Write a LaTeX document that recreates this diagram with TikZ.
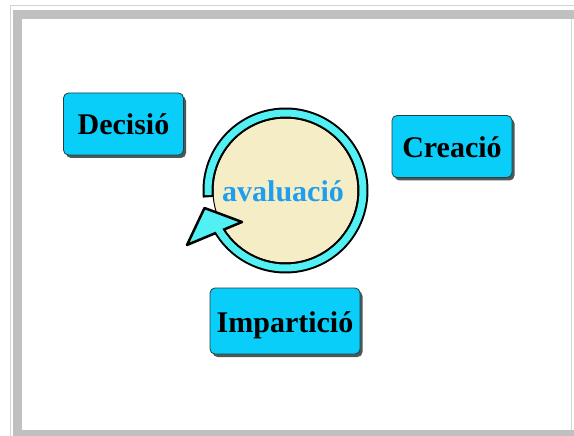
\documentclass[tikz,border=0pt]{standalone}
\usepackage{fontspec}
\setmainfont{Liberation Serif}
\usetikzlibrary{positioning,shadows}
\definecolor{BoxCyan}{RGB}{10,206,250}
\definecolor{RingCyan}{RGB}{82,240,242}
\definecolor{Beige}{RGB}{244,237,197}
\definecolor{EvalBlue}{RGB}{32,158,238}
\definecolor{FrameGray}{RGB}{192,192,192}
\definecolor{LineGray}{RGB}{212,212,212}
\definecolor{ShadowGray}{RGB}{40,62,62}
\tikzset{%
  stage/.style={%
    draw=ShadowGray, fill=BoxCyan, rounded corners=5pt, line width=.8pt,
    font=\fontsize{30}{36}\selectfont\bfseries, text=black,
    minimum width=120pt, minimum height=62pt, inner sep=0pt,
    text height=24pt, text depth=2pt, text centered,
    drop shadow={shadow xshift=2.5pt, shadow yshift=-3pt, fill=ShadowGray, opacity=.85}
  },
  ringline/.style={line width=11pt, draw=black},
  ringfill/.style={line width=7pt, draw=RingCyan},
  evaltext/.style={font=\fontsize{30}{36}\selectfont\bfseries, text=EvalBlue, anchor=base},
}

\begin{document}
\begin{tikzpicture}[x=1pt, y=-1pt]
    \useasboundingbox (0,0) rectangle (574,436);
    \clip (0,0) rectangle (574,436);

    % frame
    \fill[white] (0,0) rectangle (574,436);
    \draw[LineGray, line width=1pt] (10,5.3) rectangle (600,460);
    \fill[FrameGray] (12.6,10) rectangle (600,460);
    \fill[white] (22,19) rectangle (600,429.5);
    \draw[LineGray, line width=.6pt] (571.3,19) -- (571.3,429.5);

    % cycle
    \coordinate (CENTER) at (285.5,190.5);
    \filldraw[fill=Beige, draw=black, line width=1pt] (CENTER) circle[radius=72.5];
    \draw[ringline] (CENTER) ++(175:77.5) arc[start angle=175, end angle=512, radius=77.5];
    \filldraw[fill=RingCyan, draw=black, line width=2.5pt, line join=round]
        (204.5,208) -- (242,222) -- (187,245) -- cycle;
    \draw[ringfill] (CENTER) ++(176.6:77.5) arc[start angle=176.6, end angle=510, radius=77.5];
    \node (AVALUACIO)[evaltext] at (283,201.5) {avaluació};

    % stages
    \node (DECISIO)[stage] at (123.5,124) {Decisió};
    \node (CREACIO)[stage] at (452,146.5) {Creació};
    \node (IMPARTICIO)[stage, minimum width=150pt, minimum height=66pt] at (285,321) {Impartició};
\end{tikzpicture}
\end{document}
